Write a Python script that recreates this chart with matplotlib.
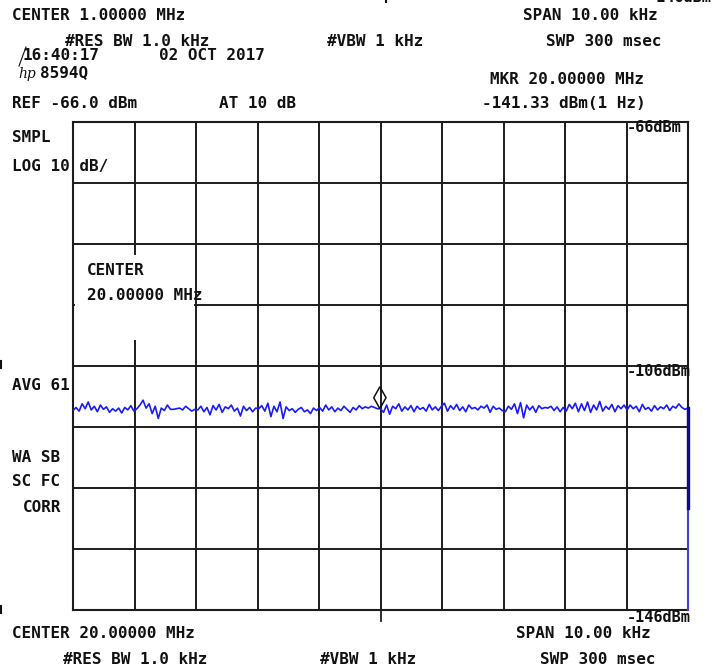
import numpy as np
import matplotlib
matplotlib.use("Agg")
import matplotlib.pyplot as plt
from matplotlib.patches import Rectangle, Polygon
from matplotlib.lines import Line2D

# Sweep settings (kHz offset from centre, dBm)
span_khz = 10.0
ref_level = -66.0
db_per_div = 10.0
n_ydiv = 8
bottom_level = ref_level - db_per_div * n_ydiv
marker_khz = 0.0

# Averaged noise trace, dBm, equally spaced across the span
trace_dbm = [
    -113.3, -112.8, -113.4, -112.2, -113.0, -111.9, -113.2, -112.6, -113.5, -112.4,
    -113.1, -112.7, -113.6, -113.0, -113.4, -112.9, -113.7, -112.8, -113.2, -112.5, -113.4,
    -113.0, -112.4, -111.6, -112.9, -112.2, -113.8, -112.6, -114.6, -112.9, -113.3,
    -112.4, -113.1, -113.1, -113.0, -112.9, -113.2, -112.6, -113.0, -113.4, -113.1,
    -113.2, -112.6, -113.5, -112.8, -114.0, -112.5, -113.2, -112.3, -113.6, -112.7,
    -113.0, -112.4, -113.4, -112.9, -114.2, -112.6, -113.3, -112.8, -113.5, -112.9,
    -113.0, -112.5, -113.4, -112.1, -114.3, -112.6, -113.5, -111.9, -114.6, -112.7,
    -113.3, -113.0, -113.6, -113.1, -112.8, -113.5, -113.2, -113.8, -112.9, -113.3,
    -112.8, -113.4, -112.4, -113.2, -112.7, -113.5, -112.9, -113.3, -112.6, -113.1,
    -113.6, -112.8, -113.2, -112.5, -113.0, -112.7, -112.9, -112.6, -112.8, -113.0,
    -113.0,
    -113.6, -112.4, -113.9, -112.6, -113.0, -112.2, -113.4, -112.7, -113.2, -112.5,
    -113.5, -112.6, -113.1, -112.8, -113.4, -112.3, -113.2, -112.7, -113.3, -112.6,
    -112.1, -113.4, -112.5, -113.1, -112.3, -113.3, -112.7, -113.5, -112.4, -113.0,
    -112.8, -113.2, -112.6, -112.9, -112.4, -113.6, -112.6, -113.1, -112.9, -113.3,
    -113.5, -112.6, -113.1, -112.2, -113.8, -112.0, -114.5, -112.4, -113.2, -112.6,
    -113.6, -112.5, -113.0, -112.8, -112.9, -112.6, -113.3, -112.7, -113.5, -112.8,
    -113.4, -112.3, -113.0, -112.1, -113.5, -112.2, -113.3, -111.9, -113.6, -112.4,
    -113.2, -111.8, -113.4, -112.6, -113.1, -112.3, -113.5, -112.5, -113.0, -112.4,
    -113.2, -112.4, -113.0, -112.6, -113.5, -112.3, -113.1, -112.8, -113.4, -112.5,
    -113.2, -112.7, -113.0, -112.4, -113.3, -112.6, -112.9, -112.2, -112.8, -113.1,
    -112.9,
]

# Retrace at the end of the sweep
retrace_dbm = [-112.9, -146.0]
retrace_dark_dbm = [-112.9, -129.2]

W, H = 717, 670
fig = plt.figure(figsize=(W / 100, H / 100), dpi=100)
fig.patch.set_facecolor("white")


def fx(px):
    return px / W


def fy(py):
    return 1 - py / H


ax = fig.add_axes([fx(73), fy(610), (688 - 73) / W, (610 - 122) / H])
ax.set_xlim(-span_khz / 2, span_khz / 2)
ax.set_ylim(bottom_level, ref_level)
ax.set_xticks(np.arange(-5, 6, 1))
ax.set_yticks(np.arange(bottom_level, ref_level + 1, db_per_div))
ax.tick_params(length=0, labelbottom=False, labelleft=False)
ax.set_axisbelow(True)
ax.grid(True, color="#1c1c1c", linewidth=1.4)
for s in ax.spines.values():
    s.set_color("#1c1c1c")
    s.set_linewidth(1.5)

# Annotation panel masking the graticule
ax.add_patch(Rectangle((-4.975, -101.7), 1.94, 13.9, facecolor="white",
                       edgecolor="none", zorder=1))

x = np.linspace(-span_khz / 2, span_khz / 2, len(trace_dbm))
ax.plot(x, trace_dbm, color="#1a1aff", linewidth=1.2, zorder=3)
ax.plot([span_khz / 2] * 2, retrace_dbm, color="#4a4aff", linewidth=1.2,
        zorder=3, clip_on=False)
ax.plot([span_khz / 2] * 2, retrace_dark_dbm, color="#0a0a90", linewidth=2.4,
        zorder=4, clip_on=False)

# Marker diamond sitting on the trace
mk_y = trace_dbm[len(trace_dbm) // 2]
ax.add_patch(Polygon([(marker_khz - 0.01, mk_y), (marker_khz + 0.09, mk_y + 1.8),
                      (marker_khz - 0.01, mk_y + 3.6), (marker_khz - 0.11, mk_y + 1.8)],
                     closed=True, facecolor="none", edgecolor="#111111",
                     linewidth=1.1, zorder=5))

# Centre tick below the graticule
ax.plot([0, 0], [bottom_level, bottom_level - 1.8], color="#1c1c1c",
        linewidth=1.3, clip_on=False)

font = dict(family="DejaVu Sans Mono", fontweight="bold", fontsize=11.5,
            color="#111111", va="center")


def t(px, py, s, **kw):
    d = dict(font)
    d.update(kw)
    fig.text(fx(px), fy(py), s, **d)


t(12, 16, "CENTER 1.00000 MHz")
t(523, 16, "SPAN 10.00 kHz")
t(65, 41, "#RES BW 1.0 kHz")
t(327, 41, "#VBW 1 kHz")
t(546, 41, "SWP 300 msec")
t(22, 56, "16:40:17")
t(159, 56, "02 OCT 2017")
t(40, 73, "8594Q")
t(490, 80, "MKR 20.00000 MHz")
t(12, 104, "REF -66.0 dBm")
t(219, 104, "AT 10 dB")
t(482, 104, "-141.33 dBm(1 Hz)")
t(12, 137, "SMPL")
t(12, 167, "LOG 10 dB/")
t(87, 270, "CENTER")
t(87, 295, "20.00000 MHz")
t(12, 386, "AVG 61")
t(12, 458, "WA SB")
t(12, 482, "SC FC")
t(23, 507, "CORR")
t(627, 128, "-66dBm", fontsize=11)
t(627, 372, "-106dBm", fontsize=11)
t(627, 618, "-146dBm", fontsize=11)
t(12, 634, "CENTER 20.00000 MHz")
t(516, 634, "SPAN 10.00 kHz")
t(63, 659, "#RES BW 1.0 kHz")
t(320, 659, "#VBW 1 kHz")
t(540, 659, "SWP 300 msec")
t(648, -2, "-146dBm", fontsize=11)

# Instrument logo
t(18, 74, "hp", fontstyle="italic", family="DejaVu Serif", fontweight="normal",
  fontsize=10)
fig.add_artist(Line2D([fx(26), fx(19)], [fy(47), fy(66)], color="#111111",
                      linewidth=0.8))

# Small edge marks
for py0, py1 in [(361, 368), (606, 613)]:
    fig.add_artist(Line2D([fx(1), fx(1)], [fy(py0), fy(py1)], color="#111111",
                          linewidth=1.5))
fig.add_artist(Line2D([fx(386), fx(386)], [fy(0), fy(2)], color="#111111",
                      linewidth=1.5))

fig.savefig("out.png", dpi=100, facecolor="white")
